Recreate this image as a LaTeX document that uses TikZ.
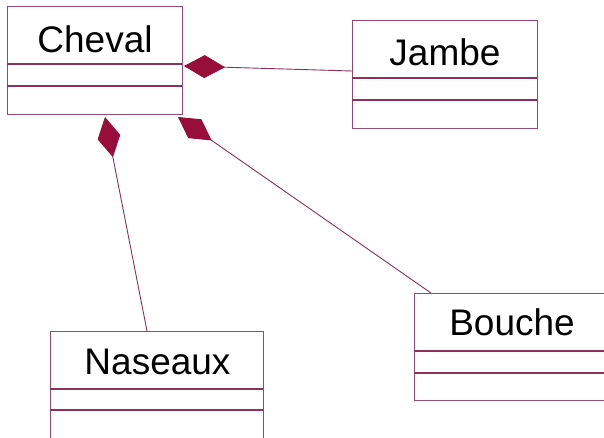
\documentclass[tikz,border=0pt]{standalone}
\usepackage{fontspec}
\setmainfont{Liberation Sans}
\usetikzlibrary{arrows.meta}
\definecolor{umlline}{RGB}{140,50,90}
\definecolor{umlborder}{RGB}{150,75,110}
\definecolor{umldia}{RGB}{152,14,58}
\begin{document}
\begin{tikzpicture}[x=1pt,y=-1pt,
  classbox/.style={draw=umlborder, line width=1.3pt, fill=white, rectangle, inner sep=0pt, anchor=north west},
  divider/.style={draw=umlline, line width=1.3pt},
  classname/.style={anchor=base, inner sep=0pt, font=\fontsize{37}{44}\selectfont},
  compo/.style={draw=umlline, line width=0.9pt, {Diamond[length=41pt,width=23pt,fill=umldia,color=umldia]}-}]
\useasboundingbox (0,0) rectangle (604,437);
\clip (0,0) rectangle (604,437);
\fill[white] (0,0) rectangle (604,437);
% Cheval
\node[classbox, minimum width=175pt, minimum height=108pt] (cheval) at (7,6) {};
\draw[divider] (7,64) -- (182,64);
\draw[divider] (7,86) -- (182,86);
\node[classname] (chevalname) at (95,52) {Cheval};
% Jambe
\node[classbox, minimum width=185pt, minimum height=108pt] (jambe) at (352,20) {};
\draw[divider] (352,78) -- (537,78);
\draw[divider] (352,100) -- (537,100);
\node[classname] (jambename) at (445,65) {Jambe};
% Naseaux
\node[classbox, minimum width=213pt, minimum height=114pt] (naseaux) at (50,331) {};
\draw[divider] (50,389) -- (263,389);
\draw[divider] (50,410) -- (263,410);
\node[classname] (naseauxname) at (157.5,374) {Naseaux};
% Bouche
\node[classbox, minimum width=196pt, minimum height=107pt] (bouche) at (414,293) {};
\draw[divider] (414,351) -- (610,351);
\draw[divider] (414,373) -- (610,373);
\node[classname] (bouchename) at (512,335) {Bouche};
% connector end points
\coordinate (cj) at (184,66);
\coordinate (jc) at (352,71);
\coordinate (cn) at (105,117);
\coordinate (nc) at (147,331);
\coordinate (cb) at (178,117);
\coordinate (bc) at (431,293);
\draw[compo] (cj) -- (jc);
\draw[compo] (cn) -- (nc);
\draw[compo] (cb) -- (bc);
\end{tikzpicture}
\end{document}
